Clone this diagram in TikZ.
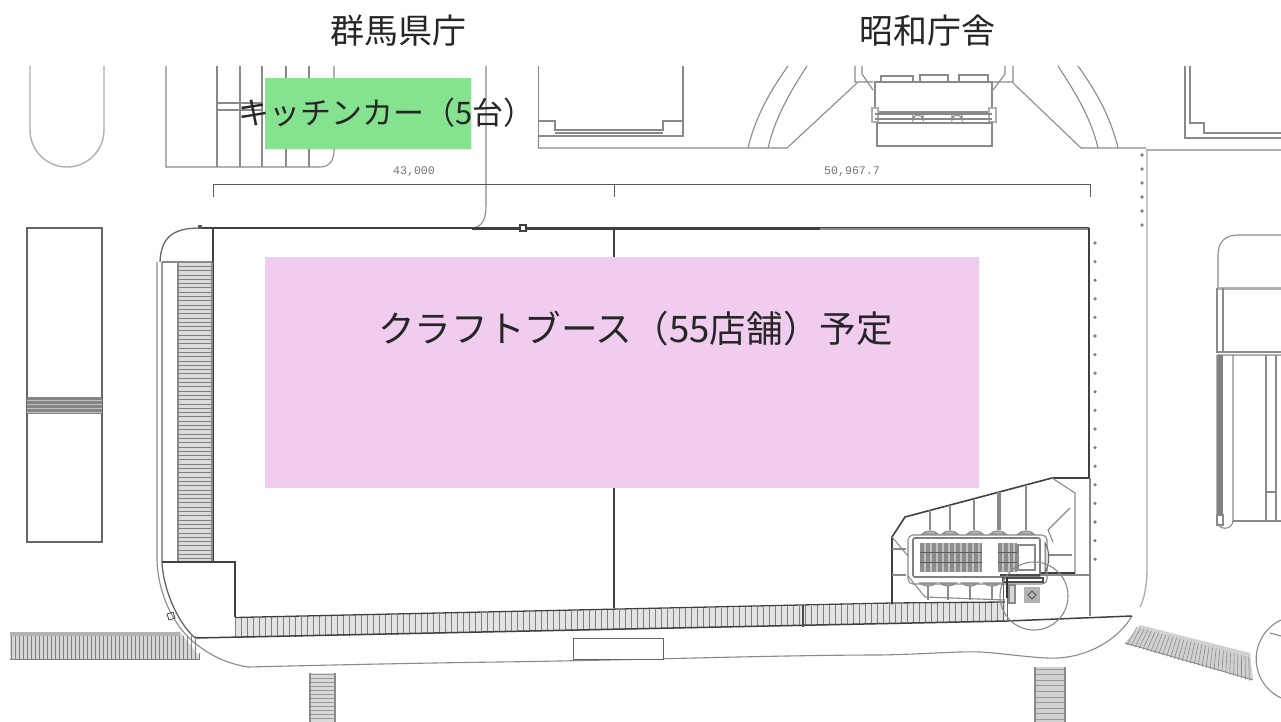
\documentclass[tikz,border=0pt]{standalone}
\usepackage{fontspec}
\newfontfamily\cjk{Noto Sans CJK JP}
\setmainfont{Liberation Mono}
\definecolor{boothgreen}{HTML}{85E28F}
\definecolor{boothpink}{HTML}{F0CDEF}
\definecolor{inkgrey}{HTML}{8A8A8A}
\definecolor{softgrey}{HTML}{B0B0B0}
\tikzset{
  thin line/.style={draw=inkgrey,line width=1.1pt},
  soft line/.style={draw=softgrey,line width=1.4pt},
  wall line/.style={draw=black!75,line width=1.6pt},
  hatch line/.style={draw=black!50,line width=0.7pt},
  big label/.style={font=\cjk,text=black!85,inner sep=0pt},
  dim label/.style={font=\fontsize{11.6}{12}\selectfont,text=black!55,inner sep=0pt},
  dot mark/.style={fill=black!50,draw=none,circle,minimum size=3.6pt,inner sep=0pt}
}
\begin{document}
\begin{tikzpicture}[x=1pt,y=-1pt]
\useasboundingbox (0,0) rectangle (1281,722);
\fill[white] (0,0) rectangle (1281,722);
% ---------- top-left shapes
\draw[soft line] (30,66) -- (30,130) arc[start angle=180,end angle=360,x radius=37,y radius=-37] -- (104,66);
\draw[thin line] (166,66) -- (166,167) -- (320,167) .. controls (329,167) and (334,161) .. (334,150) -- (334,66);
\foreach \x in {217,240,262,286,309}{\draw[thin line] (\x,66) -- (\x,167);}
\draw[thin line] (217,103) -- (262,103) (217,110) -- (262,110);
\draw[thin line] (486,66) -- (486,205) .. controls (486,220) and (482,227) .. (472,228);
% ---------- dimension line
\draw[draw=black!65,line width=0.9pt] (213,197) -- (213,184) -- (1090,184) -- (1090,197) (614,184) -- (614,197);
\node[dim label] (dimA) at (414,172) {43,000};
\node[dim label] (dimB) at (852,172) {50,967.7};
% ---------- top buildings
\draw[thin line] (538.5,66) -- (538.5,136) -- (683,136) -- (683,66);
\draw[thin line] (538.5,121) -- (555,121) -- (555,130) -- (663,130) -- (663,121) -- (683,121);
\draw[thin line] (555,133) -- (663,133);
\draw[thin line] (538.5,136) -- (538.5,148) -- (787,148) -- (857,83);
\draw[thin line] (748,148) .. controls (756,115) and (771,90) .. (788,66);
\draw[thin line] (768,148) .. controls (775,118) and (790,92) .. (807,66);
\draw[thin line] (1118,148) .. controls (1110,115) and (1095,90) .. (1078,66);
\draw[thin line] (1098,148) .. controls (1091,118) and (1075,92) .. (1058,66);
\draw[thin line] (1013,83) -- (1081,148) -- (1146,148);
\draw[thin line] (855,66) -- (855,82) -- (873,82) (862,66) -- (862,74) -- (873,90);
\draw[thin line] (1013,66) -- (1013,82) -- (993,82) (1005,66) -- (1005,74) -- (993,90);
\draw[thin line] (875,82) rectangle (992,112);
\draw[thin line] (881,82) -- (881,76) -- (913,76) -- (913,82) (920,82) -- (920,75) -- (948,75) -- (948,82) (959,82) -- (959,75) -- (988,75) -- (988,82);
\draw[soft line,fill=white] (872,108) rectangle (878,122) (989,108) rectangle (996,122);
\draw[thin line] (875,114) -- (992,114) (875,119) -- (992,119);
\draw[thin line] (877,123) -- (877,146) -- (992,146) -- (992,123) -- cycle;
\foreach \x in {913,952}{\draw[thin line] (\x,113) -- (\x,120) arc[start angle=180,end angle=360,radius=5] -- (\x+10,113);}
\draw[thin line] (1185,66) -- (1185,138) -- (1281,138) (1190,66) -- (1190,123) -- (1204,123) -- (1204,133) -- (1281,133);
% ---------- left strip
\draw[draw=black!60,line width=1.3pt] (27,228) rectangle (102,542);
\fill[black!48] (27,397) rectangle (102,414);
\foreach \y in {400,404,408,412}{\draw[black!25,line width=0.4pt] (27,\y) -- (102,\y);}
% ---------- road lines
\draw[soft line,line width=1.8pt] (1146,150) -- (1281,150);
\draw[soft line] (1147,150) -- (1147,570) .. controls (1147,585) and (1144,600) .. (1140,607);
\foreach \y in {155,169,183,197,211,225}{\node[dot mark] at (1142,\y) {};}
\foreach \i in {0,...,17}{\node[dot mark] at (1095,{243+18.6*\i}) {};}
% ---------- right building
\draw[thin line] (1218,288) -- (1218,255) .. controls (1218,243) and (1224,235) .. (1238,235) -- (1281,235);
\draw[draw=softgrey,line width=3pt] (1217,288) -- (1281,288);
\draw[thin line] (1217,288) -- (1217,353) (1223,288) -- (1223,353);
\draw[thin line] (1217,352) -- (1281,352);
\draw[draw=softgrey,line width=1.5pt] (1217,355) -- (1281,355);
\fill[black!50] (1217,355) rectangle (1223,515);
\draw[thin line] (1217,355) -- (1217,520) .. controls (1217,531) and (1233,531) .. (1233,520) -- (1233,355);
\draw[thin line] (1217,515) rectangle (1223,525);
\draw[thin line] (1233,521) -- (1281,521);
\draw[thin line] (1266,355) -- (1266,521) (1276,355) -- (1276,521) (1266,492) -- (1276,492);
% ---------- site outline
\draw[wall line] (200,228) -- (1089,228);
\draw[draw=black!45,line width=2.4pt] (820,229) -- (1089,229);
\draw[wall line,line width=2pt] (472,229) -- (820,229);
\draw[draw=black!60,line width=1.3pt] (200,228) .. controls (172,228) and (161,238) .. (160,262);
\draw[thin line] (157,262) -- (157,560) .. controls (158,595) and (175,630) .. (200,647) .. controls (215,658) and (230,664) .. (248,667) .. controls (330,665) and (420,663) .. (500,662) .. controls (640,660) and (780,655) .. (880,655) .. controls (930,654) and (960,651) .. (980,652) .. controls (1000,653) and (1025,657) .. (1047,658) .. controls (1085,660) and (1118,640) .. (1132,616);
\draw[draw=black!60,line width=1.3pt] (162,262) -- (162,563) .. controls (163,585) and (175,620) .. (195,638);
\fill[black!65] (198,225) rectangle (202,229);
\draw[draw=black!75,line width=1.1pt,fill=white] (520,225) rectangle (526,231);
\draw[wall line] (213,228) -- (213,563);
\draw[wall line,line width=1.3pt] (614,228) -- (614,608);
\draw[wall line] (1089,228) -- (1089,478) -- (1052,478) -- (905,517) -- (892,537) -- (892,605);
% ---------- left stair
\fill[black!14] (178,262) rectangle (212,562);
\foreach \i in {0,...,69}{\draw[hatch line] (178,{262+4.3*\i}) -- (212,{262+4.3*\i});}
\draw[thin line] (178,262) -- (178,562) (212,262) -- (212,562) (162,262) -- (212,262);
\draw[wall line,line width=1.3pt] (162,562) -- (235,562) -- (235,617);
\draw[draw=black!70,line width=0.8pt] (167,614) -- (173,612) -- (175,618) -- (169,620) -- cycle;
% ---------- slanted band
\fill[black!11] (235,618) -- (1005,602) -- (1005,622) -- (235,638) -- cycle;
\foreach \i in {0,...,128}{
  \pgfmathsetmacro{\xx}{235+6*\i}
  \draw[hatch line] (\xx,{618-(\xx-235)*0.0216}) -- (\xx,{638-(\xx-235)*0.0216});}
\draw[wall line,line width=1.3pt] (235,617.5) -- (892,603) -- (1005,602);
\draw[wall line,line width=1.5pt] (195,638) -- (1007,621) -- (1132,616);
\draw[draw=black!70,line width=1.2pt] (803,605) -- (803,627);
% ---------- bottom small shapes
\draw[draw=black!60,line width=1pt,fill=white] (573,638) rectangle (663,659);
% ---------- left steps
\fill[black!16] (10,632) -- (180,632) -- (200,657) -- (200,659) -- (10,659) -- cycle;
\fill[black!30] (10,632) rectangle (180,636);
\foreach \i in {0,...,46}{\draw[hatch line] ({11+4*\i},636) -- ({11+4*\i},659);}
\foreach \i in {0,...,3}{\draw[hatch line] ({187+4*\i},{641+4*\i}) -- ({187+4*\i},659);}
\draw[draw=black!50,line width=0.9pt] (10,659) -- (200,659);
% ---------- bottom stairs
\fill[black!15] (310,673) rectangle (335,722);
\foreach \i in {0,...,12}{\draw[hatch line,draw=black!40] (310,{674+4*\i}) -- (335,{674+4*\i});}
\draw[thin line] (310,673) -- (310,722) (335,673) -- (335,722);
\fill[black!18] (1035,667) rectangle (1065,722);
\foreach \i in {0,...,9}{\draw[hatch line,draw=black!40] (1035,{669+5.6*\i}) -- (1065,{669+5.6*\i});}
\draw[thin line] (1035,667) -- (1035,722) (1065,667) -- (1065,722);
% ---------- diagonal stair
\fill[black!18] (1140,625) -- (1250,653) -- (1253,680) -- (1125,643) -- cycle;
\foreach \i in {0,...,31}{\draw[draw=black!45,line width=0.6pt] ({1137+3.6*\i},{627+0.27*3.6*\i}) -- ({1127+3.95*\i},{645+0.29*3.95*\i});}
\draw[draw=black!50,line width=0.8pt] (1125,643) -- (1253,680);
% ---------- right circle
\draw[thin line] (1281,620) arc[start angle=-115,end angle=-180,radius=43] arc[start angle=180,end angle=115,radius=43];
\draw[thin line] (1270,633) -- (1281,636);
% ---------- plaza corner
\draw[thin line] (1052,478) -- (1075,493) -- (1075,575);
\draw[thin line] (1090,478) -- (1090,616);
\draw[thin line] (1040,575) -- (1090,575);
\draw[draw=black!75,line width=1.2pt] (1040,573) -- (1075,573);
\foreach \x in {930,950,974,998,1000,1026}{\pgfmathsetmacro{\yy}{517-(\x-905)*0.265}\draw[thin line] (\x,\yy) -- (\x,530);}
\foreach \x in {928,948,970,992}{\draw[thin line] (\x,585) -- (\x,600);}
\draw[thin line] (892,537) -- (908,556) (908,576) -- (925,597) -- (1005,600);
\draw[thin line] (1048,530) -- (1070,508) (1048,530) -- (1053,542);
\draw[thin line] (1048,555) -- (1072,555);
\draw[thin line] (892,549) -- (906,549) (892,575) -- (906,575);
\foreach \x in {930,950,975,998,1026}{\draw[thin line,fill=black!25] (\x-8,534) .. controls (\x-4,530) and (\x+4,530) .. (\x+8,534) -- cycle;}
\foreach \x in {928,948,970,992}{\draw[thin line,fill=black!25] (\x-8,583) .. controls (\x-4,587) and (\x+4,587) .. (\x+8,583) -- cycle;}
\draw[thin line,rounded corners=5pt] (908,535) rectangle (1047,584);
\draw[draw=black!50,line width=1.8pt,rounded corners=2pt] (913,538) rectangle (1040,577);
\fill[black!45] (920,543) rectangle (982,572);
\foreach \x in {925,931,...,979}{\draw[white!75!black,line width=1.3pt] (\x,543) -- (\x,572);}
\foreach \y in {552,562}{\draw[black!65,line width=0.8pt] (920,\y) -- (982,\y);}
\fill[black!45] (998,543) rectangle (1017,572);
\foreach \x in {1003,1009,1014}{\draw[white!75!black,line width=1.2pt] (\x,543) -- (\x,572);}
\foreach \y in {552,562}{\draw[black!65,line width=0.8pt] (998,\y) -- (1017,\y);}
\draw[thin line] (1018,545) rectangle (1035,570);
\draw[draw=black!60,line width=1pt,fill=softgrey!40] (1045,543) .. controls (1050,550) and (1050,565) .. (1045,572) -- cycle;
\draw[draw=black!70,line width=1.1pt] (1000,575) -- (1040,575) (1003,578) rectangle (1043,582);
\draw[draw=black!80,line width=1.8pt] (1007,577) -- (1007,598);
\draw[draw=black!60,line width=0.9pt] (1003,577) -- (1003,620) (1007,598) -- (1007,621);
\draw[thin line,fill=softgrey!50] (1009,585) rectangle (1015,603);
\fill[black!30] (1024,587) rectangle (1040,603);
\draw[black!65,line width=0.9pt] (1032,591) -- (1036,595) -- (1032,599) -- (1028,595) -- cycle;
\draw[thin line] (1034,596) circle[radius=34];
% ---------- areas and labels
\fill[boothgreen] (265,78) rectangle (471,149);
\fill[boothpink] (265,257) rectangle (979,488);
\node[big label,font=\cjk\fontsize{34}{36}\selectfont] (gunma) at (398,31) {群馬県庁};
\node[big label,font=\cjk\fontsize{34}{36}\selectfont] (showa) at (927,31) {昭和庁舎};
\node[big label,font=\cjk\fontsize{31}{34}\selectfont,anchor=west] (kitchen) at (238,113) {キッチンカー（5台）};
\node[big label,font=\cjk\fontsize{36.6}{40}\selectfont,anchor=west] (craft) at (378,329) {クラフトブース（55店舗）予定};
\end{tikzpicture}
\end{document}
